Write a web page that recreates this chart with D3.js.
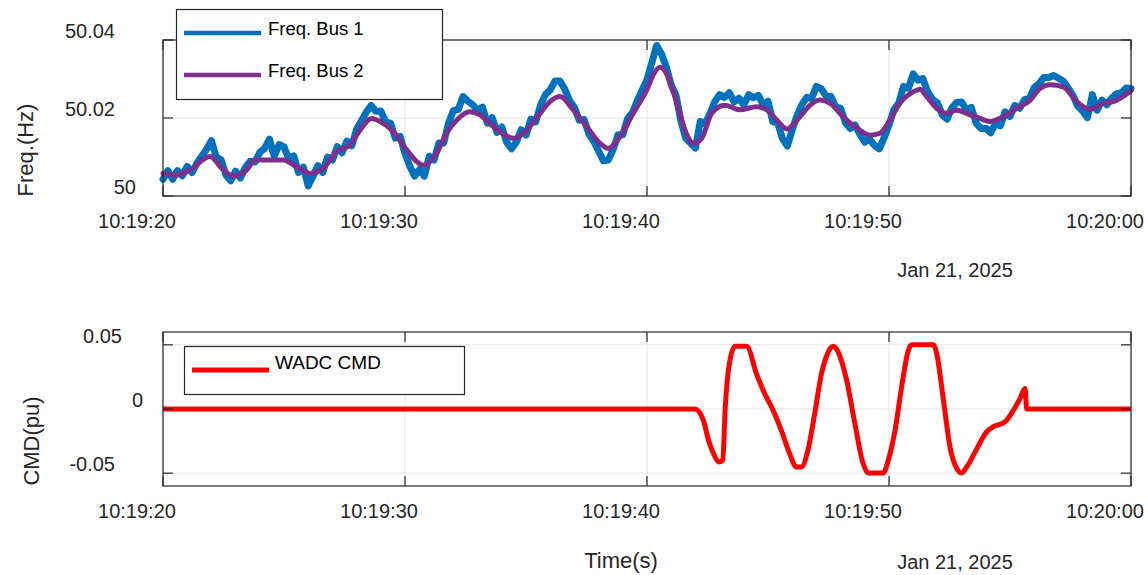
<!DOCTYPE html>
<html>
<head>
<meta charset="utf-8">
<script src="https://cdn.jsdelivr.net/npm/d3@7"></script>
<style>
  body { margin: 0; background: #fff; }
  svg { display: block; }
  text { font-family: "Liberation Sans", Arial, Helvetica, sans-serif; }
</style>
</head>
<body>
<svg id="chart" width="1148" height="575"></svg>
<script>
// ---------------------------------------------------------------
// Data
// ---------------------------------------------------------------
const startTime = new Date(2025, 0, 21, 10, 19, 20);
const spanSec = 40;
const xTickSec = [0, 10, 20, 30, 40];
const dateLabel = "Jan 21, 2025";

const freqTicks = [50, 50.02, 50.04];
const cmdTicks = [-0.05, 0, 0.05];

// Freq. Bus 1 — raw measurement, one sample every 0.2 s,
// deviation from 50 Hz in mHz
const bus1Step = 0.2;
const bus1DevMHz = [
  4.3, 6.5, 4.3, 6.5, 5.2, 7.6, 6.0, 8.4, 10.2, 12.0,
  14.2, 10.0, 9.3, 5.4, 3.9, 6.4, 4.6, 7.3, 8.9, 8.7,
  11.2, 12.2, 14.6, 10.2, 13.2, 12.6, 9.5, 10.3, 6.05, 7.4,
  2.6, 5.1, 7.8, 6.05, 10.0, 9.2, 12.65, 11.1, 14.1, 12.9,
  17.1, 19.3, 21.5, 23.2, 21.7, 21.8, 19.0, 18.7, 14.8, 15.3,
  10.9, 7.6, 5.1, 6.8, 5.1, 10.2, 9.2, 13.6, 13.6, 18.7,
  21.9, 22.2, 25.5, 24.3, 23.4, 22.0, 22.8, 18.7, 20.1, 16.3,
  17.7, 13.8, 12.1, 13.8, 17.0, 15.6, 19.7, 19.0, 23.3, 26.0,
  27.2, 29.5, 29.5, 27.4, 24.5, 22.7, 19.4, 19.6, 15.9, 14.0,
  11.5, 9.0, 9.2, 11.9, 15.7, 15.7, 19.9, 21.4, 24.5, 27.2,
  29.8, 34.2, 38.6, 36.4, 33.1, 28.5, 25.8, 19.3, 14.8, 13.6,
  12.3, 19.1, 18.5, 21.1, 24.2, 26.0, 25.3, 26.5, 24.1, 25.1,
  23.3, 26.0, 25.2, 25.8, 23.4, 24.3, 19.0, 18.8, 14.7, 12.8,
  17.0, 20.6, 23.4, 25.3, 25.0, 28.1, 27.5, 25.6, 25.5, 22.8,
  22.5, 18.8, 17.3, 18.2, 15.8, 13.8, 14.6, 13.0, 12.1, 15.0,
  18.2, 22.1, 23.8, 28.1, 27.6, 31.3, 29.7, 30.1, 26.7, 24.8,
  23.9, 20.8, 19.7, 22.6, 24.0, 24.1, 22.1, 22.7, 18.7, 17.3,
  17.4, 16.2, 18.6, 18.0, 21.6, 20.4, 23.2, 22.5, 24.7, 25.0,
  27.8, 28.8, 30.4, 30.4, 30.9, 30.2, 29.5, 27.7, 25.8, 23.0,
  21.8, 20.1, 26.0, 22.0, 24.6, 23.4, 25.1, 26.2, 26.5, 27.7,
  27.5
];

// Freq. Bus 2 — filtered signal (seconds after 10:19:20, mHz above 50 Hz)
const bus2Sec = [
  0, 0.57, 1.12, 1.94, 2.43, 2.90, 3.46, 3.80, 4.97, 5.52,
  6.07, 6.62, 7.18, 7.73, 8.14, 8.62, 8.97, 9.52, 10.07, 10.76,
  11.31, 11.72, 12.14, 12.69, 13.10, 13.65, 14.48, 15.03, 15.58, 15.99,
  16.40, 16.95, 17.51, 18.06, 18.40, 18.88, 19.43, 19.99, 20.30, 20.55,
  20.85, 21.23, 21.57, 21.91, 22.26, 22.67, 23.22, 23.84, 24.53, 24.95,
  25.36, 25.77, 26.32, 26.74, 27.15, 27.56, 28.11, 28.67, 29.21, 29.63,
  30.04, 30.45, 31.00, 31.28, 31.56, 31.97, 32.38, 32.80, 33.35, 33.76,
  34.17, 34.72, 35.28, 35.83, 36.24, 36.65, 37.20, 37.76, 38.31, 38.86,
  39.27, 40.0
];
const bus2DevMHz = [
  5.8, 5.4, 6.7, 10.1, 7.1, 5.1, 6.7, 9.2, 9.2, 7.5,
  5.8, 7.1, 11.4, 13.1, 16.9, 19.9, 19.1, 16.5, 11.8, 7.9,
  11.0, 16.1, 19.5, 21.6, 20.8, 17.8, 14.8, 16.9, 21.2, 24.2,
  25.5, 22.1, 17.8, 13.5, 12.2, 15.2, 21.2, 27.2, 31.6, 33.0,
  30.8, 23.8, 16.9, 13.5, 14.8, 21.2, 23.3, 22.1, 22.9, 22.1,
  19.5, 17.2, 20.3, 23.3, 24.6, 23.8, 20.3, 17.4, 15.6, 16.1,
  19.5, 23.8, 26.7, 27.4, 25.5, 22.5, 21.2, 22.0, 20.8, 19.9,
  19.1, 20.3, 22.5, 24.6, 27.6, 28.5, 28.0, 24.2, 22.2, 23.8,
  24.2, 27.0
];

// WADC CMD (seconds after 10:19:20, pu)
const cmdSec = [
  0, 21.98, 22.33, 22.52, 22.72, 22.99, 23.13, 23.23, 23.41, 23.64,
  24.12, 24.52, 24.80, 25.21, 25.55, 25.89, 26.17, 26.38, 26.65, 26.93,
  27.21, 27.49, 27.70, 27.90, 28.25, 28.59, 28.93, 29.14, 29.76, 29.97,
  30.25, 30.52, 30.80, 30.94, 31.83, 31.97, 32.25, 32.52, 32.80, 33.00,
  33.21, 33.56, 34.03, 34.30, 34.79, 35.14, 35.41, 35.62, 35.69, 40
];
const cmdPu = [
  0, 0, -0.0088, -0.023, -0.0335, -0.0413, -0.040, 0.0000, 0.0360, 0.0488,
  0.0488, 0.0276, 0.0146, -0.001, -0.0166, -0.0347, -0.0452, -0.0452, -0.032, -0.0036,
  0.0276, 0.0444, 0.0488, 0.0444, 0.0224, -0.0114, -0.0425, -0.0499, -0.0499, -0.040,
  -0.0166, 0.0171, 0.0457, 0.0500, 0.0500, 0.0432, 0.0068, -0.0296, -0.0464, -0.0499,
  -0.0452, -0.0335, -0.0179, -0.014, -0.0101, -0.001, 0.0081, 0.0159, 0.0, 0
];

// ---------------------------------------------------------------
// Layout & style
// ---------------------------------------------------------------
const W = 1148, H = 575;
const plotLeft = 163, plotRight = 1131;
const topPanel = { top: 40, bottom: 196 };
const botPanel = { top: 332, bottom: 486 };

const axisColor = "#262626";
const gridColor = "#e3e3e3";
const blue = "#0072BD";
const purple = "#7E2F8E";
const red = "#FF0000";

const tickLen = 10;
const tickFont = 20;
const labelShiftX = -26;   // horizontal offset of date-time tick labels

const svg = d3.select("#chart");
svg.append("rect").attr("width", W).attr("height", H).attr("fill", "#fff");

const secToDate = s => new Date(startTime.getTime() + s * 1000);

const x = d3.scaleTime()
  .domain([startTime, secToDate(spanSec)])
  .range([plotLeft, plotRight]);
const xTicks = xTickSec.map(secToDate);
const fmtTime = d3.timeFormat("%H:%M:%S");

const yFreq = d3.scaleLinear().domain([50, 50.04]).range([topPanel.bottom, topPanel.top]);
const yCmd = d3.scaleLinear().domain([-0.06, 0.06]).range([botPanel.bottom, botPanel.top]);

// ---------------------------------------------------------------
// Panel frame: grid, box, inward ticks and labels
// ---------------------------------------------------------------
function drawGrid(g, y, panel, yTicks) {
  g.append("g").selectAll("line").data(xTicks).join("line")
    .attr("x1", d => x(d)).attr("x2", d => x(d))
    .attr("y1", panel.top).attr("y2", panel.bottom)
    .attr("stroke", gridColor).attr("stroke-width", 1);
  g.append("g").selectAll("line").data(yTicks).join("line")
    .attr("x1", plotLeft).attr("x2", plotRight)
    .attr("y1", d => y(d)).attr("y2", d => y(d))
    .attr("stroke", gridColor).attr("stroke-width", 1);
}

function drawBox(g, y, panel, yTicks, yFmt) {
  const box = g.append("g").attr("stroke", axisColor).attr("fill", "none");
  box.append("rect")
    .attr("x", plotLeft).attr("y", panel.top)
    .attr("width", plotRight - plotLeft).attr("height", panel.bottom - panel.top)
    .attr("stroke-width", 1.2);
  // x ticks on bottom and top edges, pointing inward
  xTicks.forEach(d => {
    box.append("line").attr("x1", x(d)).attr("x2", x(d))
      .attr("y1", panel.bottom).attr("y2", panel.bottom - tickLen).attr("stroke-width", 1.2);
    box.append("line").attr("x1", x(d)).attr("x2", x(d))
      .attr("y1", panel.top).attr("y2", panel.top + tickLen).attr("stroke-width", 1.2);
  });
  // y ticks on left and right edges, pointing inward
  yTicks.forEach(d => {
    box.append("line").attr("x1", plotLeft).attr("x2", plotLeft + tickLen)
      .attr("y1", y(d)).attr("y2", y(d)).attr("stroke-width", 1.2);
    box.append("line").attr("x1", plotRight).attr("x2", plotRight - tickLen)
      .attr("y1", y(d)).attr("y2", y(d)).attr("stroke-width", 1.2);
  });

  // x tick labels
  g.append("g").selectAll("text").data(xTicks).join("text")
    .attr("x", d => x(d) + labelShiftX)
    .attr("y", panel.bottom + 32)
    .attr("text-anchor", "middle")
    .attr("font-size", tickFont)
    .attr("fill", axisColor)
    .text(fmtTime);

  // y tick labels
  g.append("g").selectAll("text").data(yTicks).join("text")
    .attr("x", d => plotLeft - 20 - 7 * (yFmt(d).length - 1))
    .attr("y", d => y(d) - 9)
    .attr("dy", "0.35em")
    .attr("text-anchor", "end")
    .attr("font-size", tickFont)
    .attr("fill", axisColor)
    .text(yFmt);
}

const fmtFreq = d => d === 50 ? "50" : d.toFixed(2);
const fmtCmd = d => d === 0 ? "0" : d.toFixed(2);

// ---------------------------------------------------------------
// Top panel: bus frequencies
// ---------------------------------------------------------------
const gTop = svg.append("g");
drawGrid(gTop, yFreq, topPanel, freqTicks);

const bus1 = bus1DevMHz.map((v, i) => ({ t: secToDate(i * bus1Step), f: 50 + v / 1000 }));
const bus2 = bus2Sec.map((s, i) => ({ t: secToDate(s), f: 50 + bus2DevMHz[i] / 1000 }));

gTop.append("path").datum(bus1)
  .attr("d", d3.line().x(d => x(d.t)).y(d => yFreq(d.f)))
  .attr("fill", "none").attr("stroke", blue)
  .attr("stroke-width", 7).attr("stroke-linejoin", "round").attr("stroke-linecap", "round");

gTop.append("path").datum(bus2)
  .attr("d", d3.line().x(d => x(d.t)).y(d => yFreq(d.f)).curve(d3.curveMonotoneX))
  .attr("fill", "none").attr("stroke", purple)
  .attr("stroke-width", 5).attr("stroke-linejoin", "round").attr("stroke-linecap", "round");

drawBox(gTop, yFreq, topPanel, freqTicks, fmtFreq);

gTop.append("text")
  .attr("transform", "translate(25,150) rotate(-90)")
  .attr("dy", "0.35em").attr("text-anchor", "middle")
  .attr("font-size", 22).attr("fill", axisColor)
  .text("Freq.(Hz)");

gTop.append("text")
  .attr("x", 955).attr("y", 277).attr("text-anchor", "middle")
  .attr("font-size", 20).attr("fill", axisColor)
  .text(dateLabel);

// legend
const legTop = gTop.append("g");
legTop.append("rect").attr("x", 176.5).attr("y", 9.5).attr("width", 266).attr("height", 90)
  .attr("fill", "#fff").attr("stroke", axisColor).attr("stroke-width", 1.2);
[
  { label: "Freq. Bus 1", color: blue, y: 33 },
  { label: "Freq. Bus 2", color: purple, y: 75 }
].forEach(e => {
  legTop.append("line").attr("x1", 184).attr("x2", 261).attr("y1", e.y).attr("y2", e.y)
    .attr("stroke", e.color).attr("stroke-width", 4.5);
  legTop.append("text").attr("x", 268).attr("y", e.y + 2).attr("font-size", 18.5)
    .attr("fill", "#000").text(e.label);
});

// ---------------------------------------------------------------
// Bottom panel: WADC command
// ---------------------------------------------------------------
const gBot = svg.append("g");
drawGrid(gBot, yCmd, botPanel, cmdTicks);

const cmd = cmdSec.map((s, i) => ({ t: secToDate(s), v: cmdPu[i] }));
gBot.append("path").datum(cmd)
  .attr("d", d3.line().x(d => x(d.t)).y(d => yCmd(d.v)).curve(d3.curveMonotoneX))
  .attr("fill", "none").attr("stroke", red)
  .attr("stroke-width", 5).attr("stroke-linejoin", "round");

drawBox(gBot, yCmd, botPanel, cmdTicks, fmtCmd);

// legend
const legBot = gBot.append("g");
legBot.append("rect").attr("x", 184.5).attr("y", 346.5).attr("width", 280).attr("height", 48)
  .attr("fill", "#fff").attr("stroke", axisColor).attr("stroke-width", 1.2);
legBot.append("line").attr("x1", 192).attr("x2", 269).attr("y1", 370).attr("y2", 370)
  .attr("stroke", red).attr("stroke-width", 5);
legBot.append("text").attr("x", 275).attr("y", 369).attr("font-size", 19)
  .attr("fill", "#000").text("WADC CMD");

gBot.append("text")
  .attr("transform", "translate(31,441) rotate(-90)")
  .attr("dy", "0.35em").attr("text-anchor", "middle")
  .attr("font-size", 22).attr("fill", axisColor)
  .text("CMD(pu)");

gBot.append("text")
  .attr("x", 621).attr("y", 568).attr("text-anchor", "middle")
  .attr("font-size", 22).attr("fill", axisColor)
  .text("Time(s)");

gBot.append("text")
  .attr("x", 955).attr("y", 569).attr("text-anchor", "middle")
  .attr("font-size", 20).attr("fill", axisColor)
  .text(dateLabel);
</script>
</body>
</html>
